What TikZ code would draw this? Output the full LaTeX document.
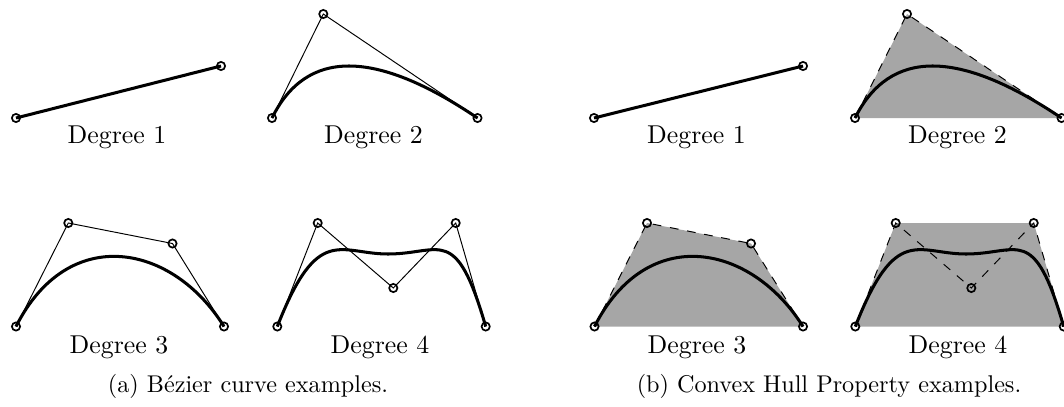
\documentclass[tikz,border=0pt]{standalone}
\usetikzlibrary{calc}
\begin{document}
\begin{tikzpicture}[x=0.4132pt, y=-0.4132pt, % one unit is one pixel of the layout, y runs down
    ctrl/.style={line width=0.4pt},
    hullpoly/.style={line width=0.4pt, dash pattern=on 3.6pt off 3.6pt},
    hull/.style={fill=black!35},
    curve/.style={line width=1.25pt},
    ctrlpt/.style={line width=0.7pt},
    deg/.style={font=\fontsize{10.66}{12.8}\selectfont, anchor=base},
    captext/.style={anchor=base}]

        \useasboundingbox (0,0) rectangle (1064,406);

        % Control points, left: Bezier curves
        \coordinate (a0) at (16,118);    \coordinate (a1) at (221,66);
        \coordinate (b0) at (272,118);   \coordinate (b1) at (323.3,14);  \coordinate (b2) at (477.5,118);
        \coordinate (c0) at (16,326.5);  \coordinate (c1) at (68.3,223);  \coordinate (c2) at (172.5,243.5);
        \coordinate (c3) at (224,326.5);
        \coordinate (d0) at (277.3,326.5); \coordinate (d1) at (317.7,223); \coordinate (d2) at (393.3,288);
        \coordinate (d3) at (455.7,223);   \coordinate (d4) at (485.7,326.5);
        \coordinate (dm) at (388,254);

        % Control points, right: convex hulls
        \coordinate (e0) at (594,118);   \coordinate (e1) at (803,66);
        \coordinate (f0) at (855,118);   \coordinate (f1) at (907,14);    \coordinate (f2) at (1061.5,118);
        \coordinate (g0) at (594.5,326.5); \coordinate (g1) at (647,223); \coordinate (g2) at (751,243.5);
        \coordinate (g3) at (803,326.5);
        \coordinate (h0) at (855.3,326.5); \coordinate (h1) at (895.7,223); \coordinate (h2) at (971.3,288);
        \coordinate (h3) at (1033.7,223);  \coordinate (h4) at (1063.7,326.5);
        \coordinate (hm) at (966,254);

        % Hulls
        \fill[hull] (f0) -- (f1) -- (f2) -- cycle;
        \fill[hull] (g0) -- (g1) -- (g2) -- (g3) -- cycle;
        \fill[hull] (h0) -- (h1) -- (h3) -- (h4) -- cycle;

        % Control polygons
        \draw[ctrl] (b0) -- (b1) -- (b2);
        \draw[ctrl] (c0) -- (c1) -- (c2) -- (c3);
        \draw[ctrl] (d0) -- (d1) -- (d2) -- (d3) -- (d4);
        \draw[hullpoly] (f0) -- (f1) -- (f2);
        \draw[hullpoly] (g0) -- (g1) -- (g2) -- (g3);
        \draw[hullpoly] (h0) -- (h1) -- (h2) -- (h3) -- (h4);

        % Curves
        \draw[curve] (a0) -- (a1);
        \draw[curve] (b0) .. controls ($(b0)!2/3!(b1)$) and ($(b2)!2/3!(b1)$) .. (b2);
        \draw[curve] (c0) .. controls (c1) and (c2) .. (c3);
        \draw[curve] (d0) .. controls (d1) and ($(dm)+(-48,0)$) .. (dm)
                          .. controls ($(dm)+(53,0)$) and (d3) .. (d4);
        \draw[curve] (e0) -- (e1);
        \draw[curve] (f0) .. controls ($(f0)!2/3!(f1)$) and ($(f2)!2/3!(f1)$) .. (f2);
        \draw[curve] (g0) .. controls (g1) and (g2) .. (g3);
        \draw[curve] (h0) .. controls (h1) and ($(hm)+(-48,0)$) .. (hm)
                          .. controls ($(hm)+(53,0)$) and (h3) .. (h4);

        % Point markers
        \foreach \p in {a0,a1,b0,b1,b2,c0,c1,c2,c3,d0,d1,d2,d3,d4,
                        e0,e1,f0,f1,f2,g0,g1,g2,g3,h0,h1,h2,h3,h4}
          \draw[ctrlpt] (\p) circle[radius=1.7pt];

        % Labels
        \node[deg] (la) at (117,143.5) {Degree 1};
        \node[deg] (lb) at (373.5,143.5) {Degree 2};
        \node[deg] (lc) at (119,353) {Degree 3};
        \node[deg] (ld) at (380,353) {Degree 4};
        \node[deg] (le) at (696.5,143.5) {Degree 1};
        \node[deg] (lf) at (957.5,143.5) {Degree 2};
        \node[deg] (lg) at (697,353) {Degree 3};
        \node[deg] (lh) at (958,353) {Degree 4};

        % Captions
        \node[captext] (capa) at (248,392) {(a) B\'ezier curve examples.};
        \node[captext] (capb) at (829,392) {(b) Convex Hull Property examples.};

    \end{tikzpicture}
\end{document}
